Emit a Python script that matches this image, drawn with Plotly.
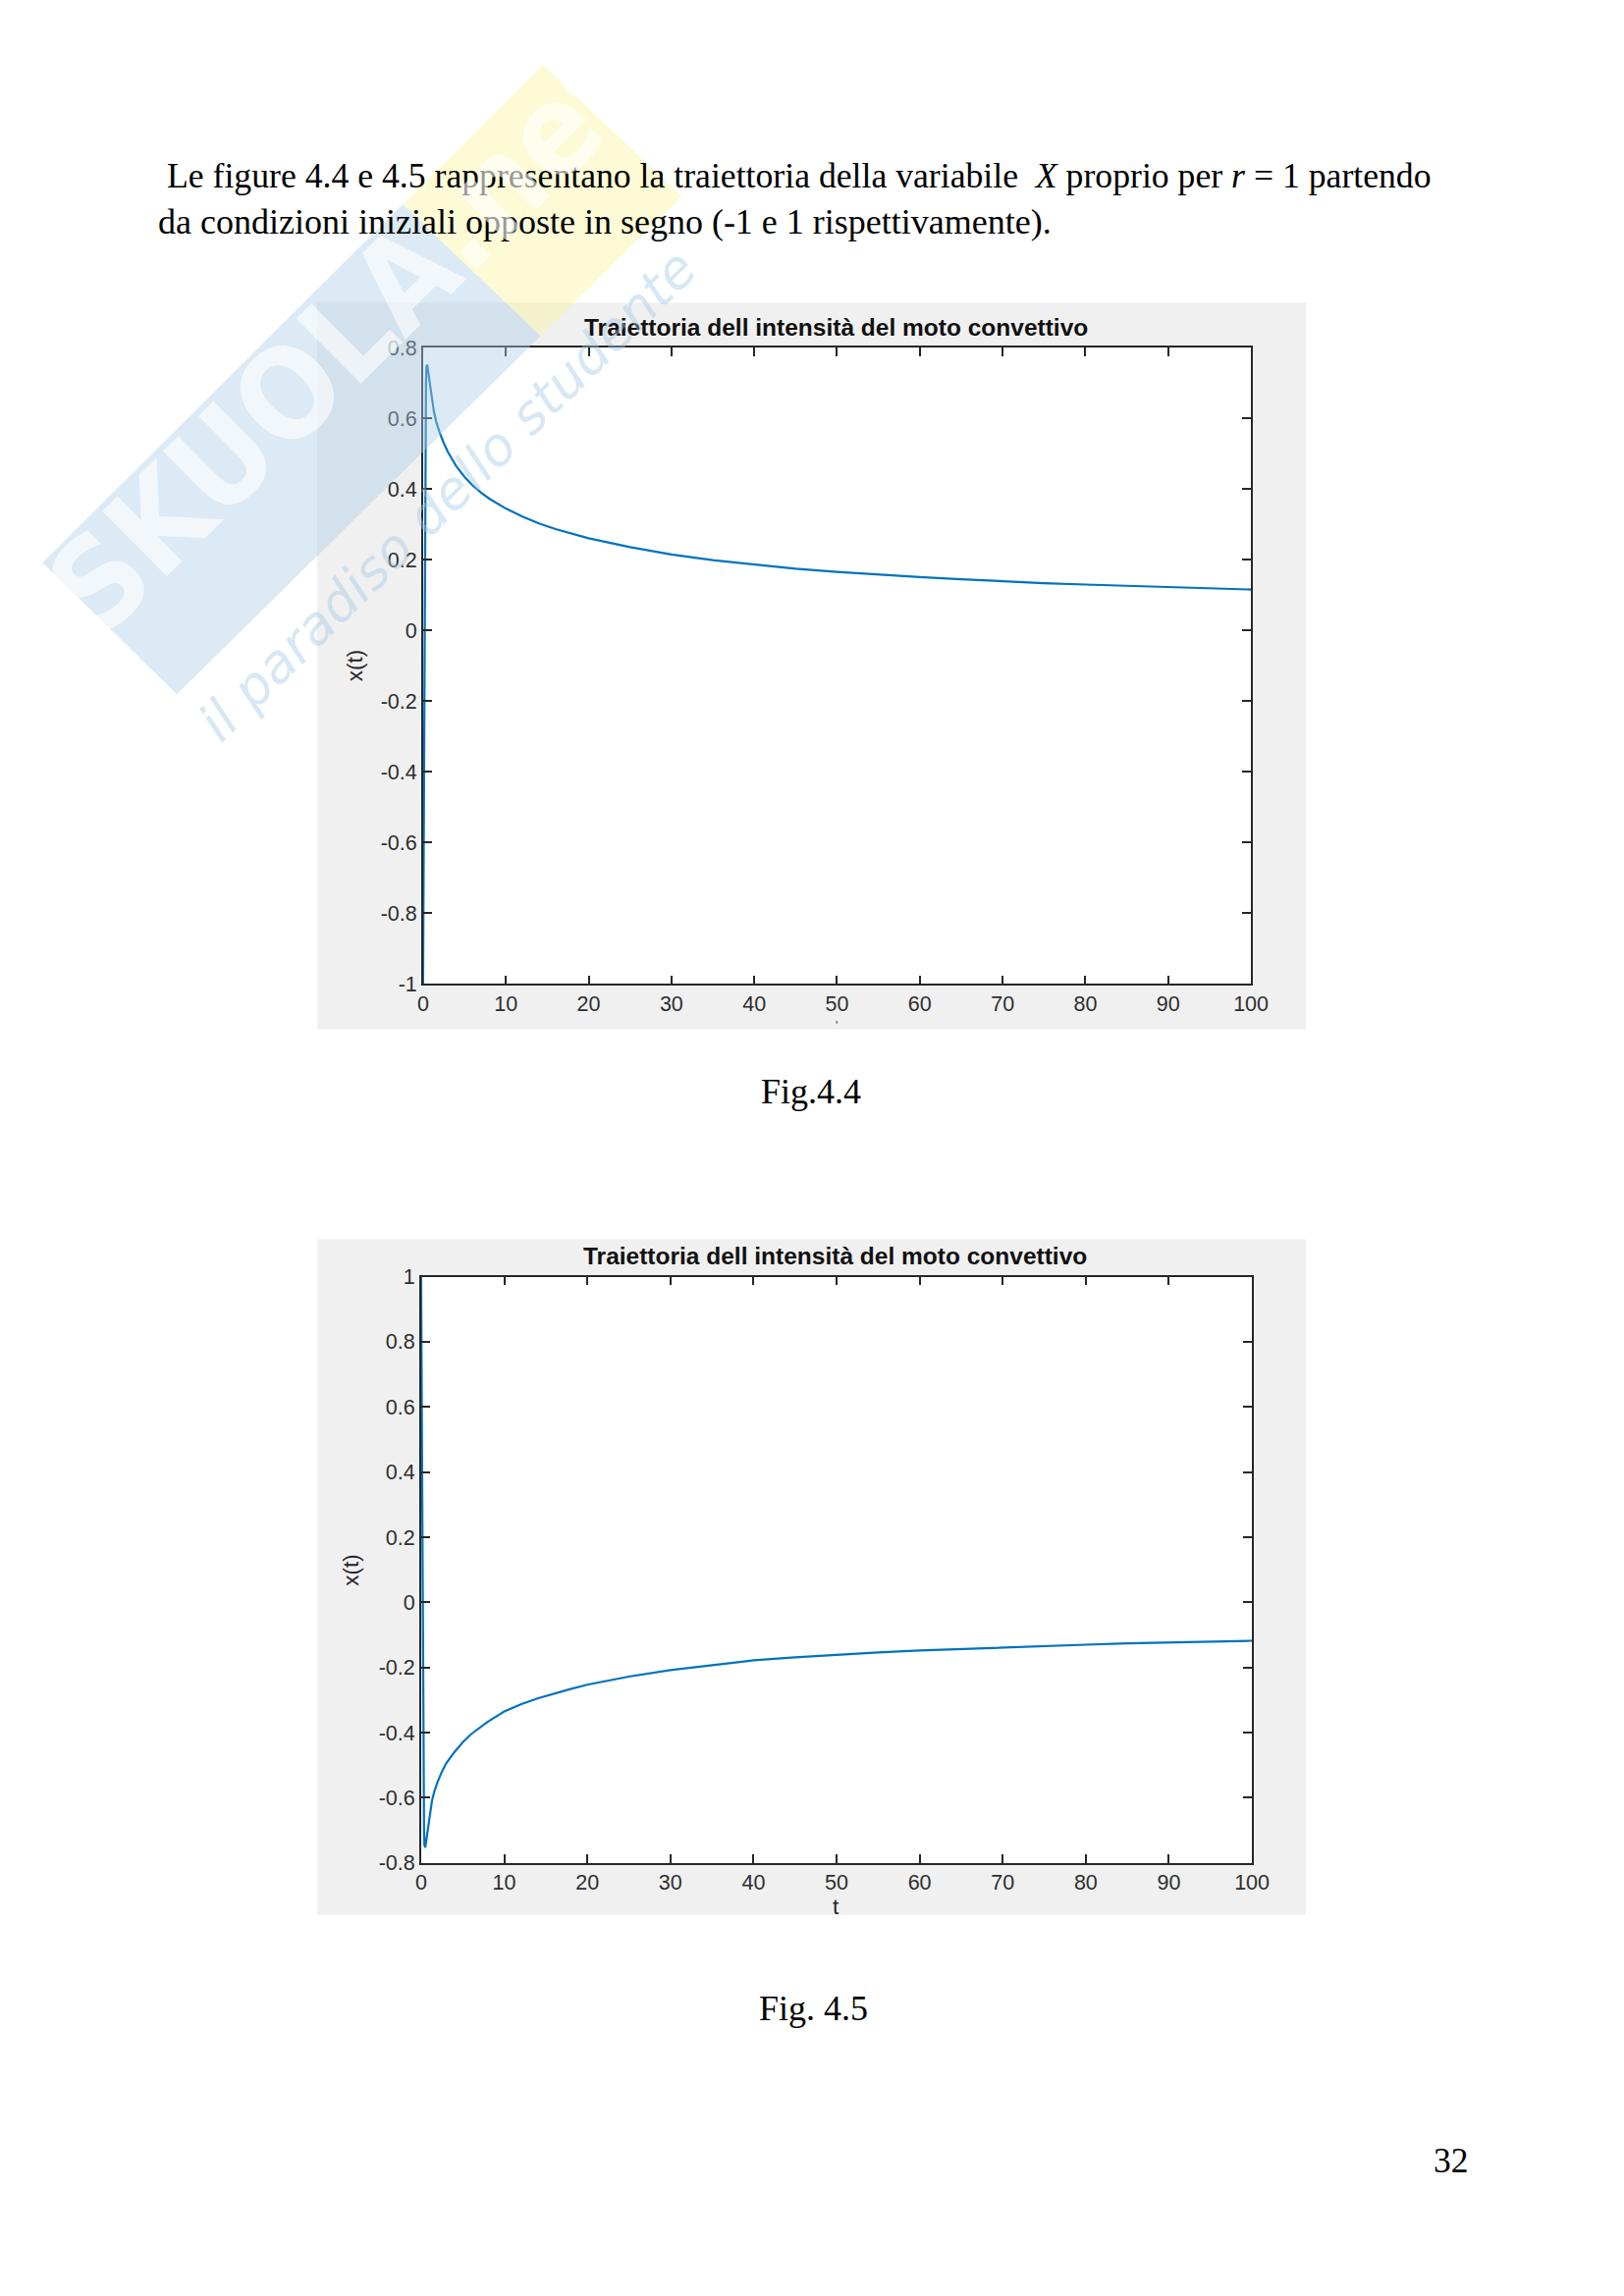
import plotly.graph_objects as go

W, H = 1654, 2339
PAGE_MARGIN = 8  # default body margin of the html page

# ---------------- data ----------------
t_fig44 = [0, 0.05, 0.1, 0.15, 0.2, 0.25, 0.3, 0.35, 0.4, 0.5, 0.6, 0.8, 1, 1.3, 1.6, 2, 2.5, 3, 4, 5,
           6, 7, 8, 10, 12, 14, 16, 18, 20, 25, 30, 35, 40, 45, 50, 55, 60, 65, 70, 75, 80, 85, 90, 95, 100]
x_fig44 = [-1, -0.75, -0.45, -0.1, 0.2, 0.43, 0.6, 0.7, 0.745, 0.752, 0.735, 0.70, 0.66, 0.62, 0.59, 0.56,
           0.53, 0.505, 0.465, 0.435, 0.41, 0.39, 0.373, 0.345, 0.322, 0.303, 0.287, 0.273, 0.261, 0.236,
           0.215, 0.199, 0.186, 0.175, 0.166, 0.158, 0.151, 0.145, 0.139, 0.134, 0.130, 0.126, 0.123, 0.119,
           0.116]

t_fig45 = [0, 0.05, 0.1, 0.15, 0.2, 0.25, 0.3, 0.35, 0.4, 0.5, 0.6, 0.8, 1, 1.3, 1.6, 2, 2.5, 3, 4, 5,
           6, 7, 8, 10, 12, 14, 16, 18, 20, 25, 30, 35, 40, 45, 50, 55, 60, 65, 70, 75, 80, 85, 90, 95, 100]
x_fig45 = [1, 0.75, 0.45, 0.1, -0.2, -0.43, -0.6, -0.7, -0.745, -0.753, -0.735, -0.70, -0.655, -0.61,
           -0.58, -0.55, -0.52, -0.495, -0.46, -0.43, -0.405, -0.385, -0.367, -0.335, -0.313, -0.295, -0.28,
           -0.266, -0.253, -0.228, -0.208, -0.192, -0.178, -0.169, -0.161, -0.154, -0.148, -0.143, -0.138,
           -0.134, -0.130, -0.126, -0.123, -0.120, -0.118]

x_tick_vals = [0, 10, 20, 30, 40, 50, 60, 70, 80, 90, 100]
x_tick_text = ["0", "10", "20", "30", "40", "50", "60", "70", "80", "90", "100"]
y_tick_vals_44 = [0.8, 0.6, 0.4, 0.2, 0, -0.2, -0.4, -0.6, -0.8, -1]
y_tick_text_44 = ["0.8", "0.6", "0.4", "0.2", "0", "-0.2", "-0.4", "-0.6", "-0.8", "-1"]
y_tick_vals_45 = [1, 0.8, 0.6, 0.4, 0.2, 0, -0.2, -0.4, -0.6, -0.8]
y_tick_text_45 = ["1", "0.8", "0.6", "0.4", "0.2", "0", "-0.2", "-0.4", "-0.6", "-0.8"]

plot_title = "Traiettoria dell intensità del moto convettivo"
y_label = "x(t)"
x_label = "t"
body_line1 = "Le figure 4.4 e 4.5 rappresentano la traiettoria della variabile  <i>X</i> proprio per <i>r</i> = 1 partendo"
body_line2 = "da condizioni iniziali opposte in segno (-1 e 1 rispettivamente)."
caption_44 = "Fig.4.4"
caption_45 = "Fig. 4.5"
page_number = "32"

FW, FH = W - 2 * PAGE_MARGIN, H - 2 * PAGE_MARGIN

# empirical correction of the page photograph (observed scale / offset)
KX, CX = 0.9863, 4.8
KY, CY = 0.9893, 12.0


def fx(px):
    p = (px - CX) / KX
    return (p - PAGE_MARGIN) / FW


def fy(py):
    p = (py - CY) / KY
    return 1 - (p - PAGE_MARGIN) / FH


LINE = "#0072BD"
SANS = "Liberation Sans, Arial, Helvetica, sans-serif"
SERIF = "Liberation Serif, Times New Roman, serif"

fig = go.Figure()
fig.add_trace(go.Scatter(x=t_fig44, y=x_fig44, mode="lines", line=dict(color=LINE, width=2.2),
                         xaxis="x", yaxis="y", showlegend=False))
fig.add_trace(go.Scatter(x=t_fig45, y=x_fig45, mode="lines", line=dict(color=LINE, width=2.2),
                         xaxis="x2", yaxis="y2", showlegend=False))

axis_common = dict(showline=True, linecolor="#262626", linewidth=1.7, mirror="ticks",
                   ticks="inside", ticklen=9, tickwidth=1.5, tickcolor="#262626",
                   showgrid=False, zeroline=False,
                   tickfont=dict(family=SANS, size=21.5, color="#2e2e2e"))

# axes geometry (pixels on the page)
A1 = dict(l=430, r=1274, t=355, b=1003)
A2 = dict(l=428, r=1275, t=1301, b=1898)

fig.update_layout(
    width=FW, height=FH, margin=dict(l=0, r=0, t=0, b=0),
    paper_bgcolor="white", plot_bgcolor="white",
    xaxis=dict(domain=[fx(A1["l"]), fx(A1["r"])], range=[0, 100], tickvals=x_tick_vals,
               ticktext=x_tick_text, anchor="y", **axis_common),
    yaxis=dict(domain=[fy(A1["b"]), fy(A1["t"])], range=[-1, 0.8], tickvals=y_tick_vals_44,
               ticktext=y_tick_text_44, anchor="x", **axis_common),
    xaxis2=dict(domain=[fx(A2["l"]), fx(A2["r"])], range=[0, 100], tickvals=x_tick_vals,
                ticktext=x_tick_text, anchor="y2", **axis_common),
    yaxis2=dict(domain=[fy(A2["b"]), fy(A2["t"])], range=[-0.8, 1], tickvals=y_tick_vals_45,
                ticktext=y_tick_text_45, anchor="x2", **axis_common),
)

shapes = []
# grey figure panels + white plot areas
for (pl, pt, pr, pb), A in (((322, 309, 1330, 1049), A1), ((322, 1263, 1330, 1951), A2)):
    shapes.append(dict(type="rect", xref="paper", yref="paper", x0=fx(pl), x1=fx(pr), y0=fy(pb), y1=fy(pt),
                       fillcolor="#f0f0f0", line=dict(width=0), layer="below"))
    shapes.append(dict(type="rect", xref="paper", yref="paper", x0=fx(A["l"]), x1=fx(A["r"]),
                       y0=fy(A["b"]), y1=fy(A["t"]), fillcolor="white", line=dict(width=0), layer="below"))


def path(pts):
    return "M " + " L ".join(f"{fx(x):.5f},{fy(y):.5f}" for x, y in pts) + " Z"


# watermark band (light blue) and yellow end
A_, B_, C_, D_ = (42, 574), (552, 67), (694, 201), (179, 708)
f = 0.72
P1 = (A_[0] + f * (B_[0] - A_[0]), A_[1] + f * (B_[1] - A_[1]))
P2 = (D_[0] + f * (C_[0] - D_[0]), D_[1] + f * (C_[1] - D_[1]))
shapes.append(dict(type="path", xref="paper", yref="paper", path=path([A_, P1, P2, D_]),
                   fillcolor="rgba(170,205,230,0.42)", line=dict(width=0), layer="above"))
shapes.append(dict(type="path", xref="paper", yref="paper", path=path([P1, B_, C_, P2]),
                   fillcolor="rgba(250,245,150,0.40)", line=dict(width=0), layer="above"))

fig.update_layout(shapes=shapes)

ann = []
# body text
ann.append(dict(x=fx(167), y=fy(180), text=body_line1, xanchor="left", yanchor="middle",
                font=dict(family=SERIF, size=35.7, color="black")))
ann.append(dict(x=fx(158), y=fy(227), text=body_line2, xanchor="left", yanchor="middle",
                font=dict(family=SERIF, size=36, color="black")))
# titles and axis labels
for cx, cy, ylx, yly, txy in ((851, 334, 360, 678, None), (850, 1280, 357, 1599, 1943)):
    ann.append(dict(x=fx(cx), y=fy(cy), text=f"<b>{plot_title}</b>", xanchor="center", yanchor="middle",
                    font=dict(family=SANS, size=24.5, color="#111111")))
    ann.append(dict(x=fx(ylx), y=fy(yly), text=y_label, textangle=-90, xanchor="center", yanchor="middle",
                    font=dict(family=SANS, size=22.5, color="#262626")))
    if txy is not None:
        ann.append(dict(x=fx(851), y=fy(txy), text=x_label, xanchor="center", yanchor="middle",
                        font=dict(family=SANS, size=22.5, color="#262626")))
# partly hidden "t" of the first figure (cut by panel edge)
ann.append(dict(x=fx(852), y=fy(1046), text="'", xanchor="center", yanchor="middle",
                font=dict(family=SANS, size=12, color="#262626")))
# captions
ann.append(dict(x=fx(825), y=fy(1113), text=caption_44, xanchor="center", yanchor="middle",
                font=dict(family=SERIF, size=36, color="black")))
ann.append(dict(x=fx(828), y=fy(2046), text=caption_45, xanchor="center", yanchor="middle",
                font=dict(family=SERIF, size=36, color="black")))
ann.append(dict(x=fx(1478), y=fy(2201), text=page_number, xanchor="center", yanchor="middle",
                font=dict(family=SERIF, size=35.5, color="black")))
# watermark texts
ann.append(dict(x=fx(350), y=fy(345), text="<b>SKUOLA.net</b>", textangle=-44.8, xanchor="center",
                yanchor="middle",
                font=dict(family="Liberation Sans Narrow, DejaVu Sans Condensed, sans-serif", size=128,
                          color="rgba(255,255,255,0.6)")))
ann.append(dict(x=fx(455), y=fy(505), text="<i>il paradiso dello studente</i>", textangle=-44.6,
                xanchor="center", yanchor="middle",
                font=dict(family="DejaVu Sans", size=54, color="rgba(160,200,228,0.42)")))

fig.update_layout(annotations=[dict(a, xref="paper", yref="paper", showarrow=False) for a in ann])

fig.write_html("out.html", config={"displayModeBar": False})
